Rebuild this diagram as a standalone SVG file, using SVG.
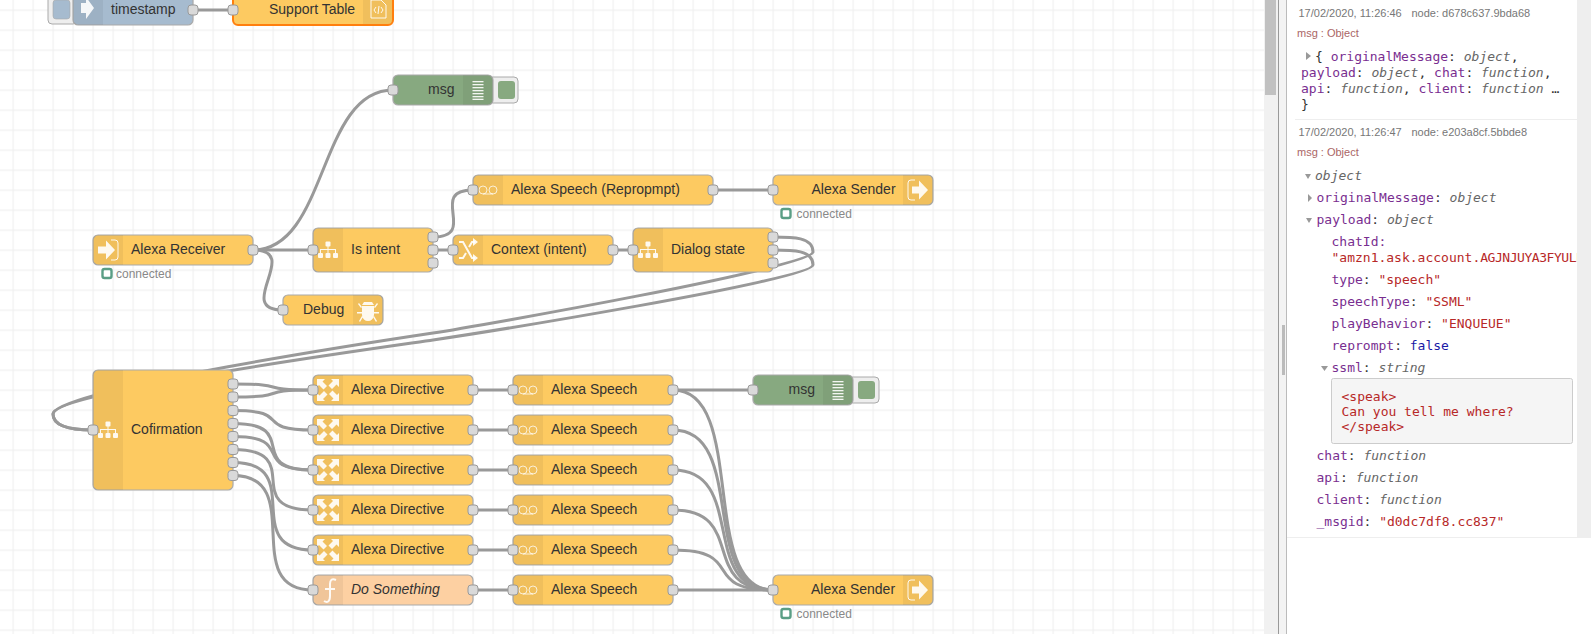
<svg xmlns="http://www.w3.org/2000/svg" width="1591" height="634" viewBox="0 0 1591 634">
<style>
.n{stroke:#aaa;stroke-width:1.2;fill:#fdca61}
.fn{fill:#fdd0a2}.inj{fill:#a6bbcf}.dbg{fill:#87a980}
.sec{fill:#000;fill-opacity:.05}
.btn{fill:#eee;stroke:#aaa;stroke-width:1}
.p{fill:#d9d9d9;stroke:#999;stroke-width:1}
.w{fill:none;stroke:#999;stroke-width:3}
.t{font:14px "Liberation Sans",Arial,sans-serif;fill:#333}
.it{font-style:italic}
.st{font:12px "Liberation Sans",Arial,sans-serif;fill:#888}
.sd{fill:#fff;stroke:#5a9e85;stroke-width:2.4}
.i{fill:#fff;fill-opacity:.9}
.il{fill:none;stroke:#fff;stroke-opacity:.9;stroke-width:1}
.tp{fill:none;stroke:#fff;stroke-opacity:.75;stroke-width:1}
.ts{font:11px "Liberation Sans",Arial,sans-serif;fill:#777}
.mh{font:11px "Liberation Sans",Arial,sans-serif;fill:#a66}
.m{font:13px "DejaVu Sans Mono",monospace;fill:#666;white-space:pre}
.k{fill:#792e90}.s{fill:#b72828}.b{fill:#1a1aa6}.y{font-style:italic;fill:#666}.d{fill:#333}
.tri{fill:#999}
</style>
<defs>
<pattern id="grid" width="20" height="20" patternUnits="userSpaceOnUse" x="12.500" y="9.500">
<path d="M0 .6H20M.6 0V20" fill="none" stroke="#f0f0f0" stroke-width="1.200"/>
</pattern>
<clipPath id="pc"><rect x="1295" y="0" width="282" height="634"/></clipPath>
<rect id="port" x="-5" y="-5" width="10" height="10" rx="3" class="p"/>
<g id="ic-tree" class="i"><rect x="-2.500" y="-8.500" width="5" height="5" rx="1"/><rect x="-10" y="3" width="5" height="5" rx="1"/><rect x="-2.500" y="3" width="5" height="5" rx="1"/><rect x="5" y="3" width="5" height="5" rx="1"/><path d="M-.5-4h1v3H8v4h-1V0H.5v3h-1V0H-7v3h-1v-4H-.5z"/></g>
<g id="ic-tape" class="tp"><circle cx="-5" cy="0" r="4"/><circle cx="5" cy="0" r="4"/><path d="M-5 4H5"/></g>
<g id="ic-map" class="i"><path d="M-11-11h8l-2.500 2.500 4.500 4.500-3.500 3.500-4.500-4.500L-11-3zM11-11v8l-2.500-2.500-4.500 4.500-3.500-3.500 4.500-4.500L3-11zM-11 11v-8l2.500 2.500 4.500-4.500 3.500 3.500-4.500 4.500L-3 11zM11 11h-8l2.500-2.500-4.500-4.500 3.500-3.500 4.500 4.500L11 3z"/></g>
<g id="ic-in"><path class="i" d="M-10-3.500h8v-6l9 9.500-9 9.500v-6h-8z"/><path class="il" d="M3-10h4q3 0 3 3V7q0 3-3 3H3"/></g>
<g id="ic-out"><path class="il" d="M-3-10h-4q-3 0-3 3V7q0 3 3 3h4"/><path class="i" d="M-6-3.500h7v-6l9 9.500-9 9.500v-6h-7z"/></g>
<g id="ic-list" class="i"><rect x="-5.500" y="-9" width="11" height="1.300"/><rect x="-5.500" y="-6" width="11" height="1.300"/><rect x="-5.500" y="-3" width="11" height="1.300"/><rect x="-5.500" y="0" width="11" height="1.300"/><rect x="-5.500" y="3" width="11" height="1.300"/><rect x="-5.500" y="6" width="11" height="1.300"/><rect x="-5.500" y="8.700" width="11" height="1.300"/></g>
</defs>
<rect width="1591" height="634" fill="#fff"/>
<rect x="0" y="0" width="1264" height="634" fill="url(#grid)"/>
<g id="connectors">
<path class="w" d="M193 10H233"/>
<path class="w" d="M253 250C328 250 318 90 393 90"/>
<path class="w" d="M253 250H313"/>
<path class="w" d="M253 250C303 250 233 310 283 310"/>
<path class="w" d="M433 237C479 237 427 190 473 190"/>
<path class="w" d="M433 250H453"/>
<path class="w" d="M713 190H773"/>
<path class="w" d="M613 250H633"/>
<path class="w" d="M773 237C793 237 813 237 813 252C813 267 473 327 433 333C393 339 53 390 53 414C53 426 70 430 93 430"/>
<path class="w" d="M773 250C793 250 813 250 813 265C813 280 473 334 433 340C393 346 53 392 53 414C53 426 70 430 93 430"/>
<path class="w" d="M233 384C293 384 253 390 313 390"/>
<path class="w" d="M233 397C293 397 253 390 313 390"/>
<path class="w" d="M233 410.500C295 410.500 251 430 313 430"/>
<path class="w" d="M233 423.500C303 423.500 243 470 313 470"/>
<path class="w" d="M233 436.500C298 436.500 248 470 313 470"/>
<path class="w" d="M233 449.500C308 449.500 238 510 313 510"/>
<path class="w" d="M233 462.500C308 462.500 238 550 313 550"/>
<path class="w" d="M233 475.500C308 475.500 238 590 313 590"/>
<path class="w" d="M473 390H513M473 430H513M473 470H513M473 510H513M473 550H513M473 590H513"/>
<path class="w" d="M673 390H753"/>
<path class="w" d="M673 390C748 390 698 590 773 590"/>
<path class="w" d="M673 430C748 430 698 590 773 590"/>
<path class="w" d="M673 470C748 470 698 590 773 590"/>
<path class="w" d="M673 510C748 510 698 590 773 590"/>
<path class="w" d="M673 550C748 550 698 590 773 590"/>
<path class="w" d="M673 590H773"/>
</g>
<g id="node-timestamp">
<rect class="btn" x="48" y="-5" width="29" height="29" rx="4"/><rect class="inj" x="53" y="0" width="17" height="19" rx="3" stroke="#aaa" stroke-width=".6"/>
<rect class="n inj" x="73" y="-5" width="120" height="30" rx="5"/>
<path class="sec" d="M73 20a5 5 0 0 0 5 5H103V-5H73z"/>
<path class="i" d="M81 3h5V-3l8 11-8 11V13h-5z"/>
<text class="t" x="111" y="14">timestamp</text>
<use href="#port" x="193" y="10"/>
</g>
<g id="node-support-table">
<rect class="n" x="233" y="-5" width="160" height="30" rx="5" style="stroke:#ff7f0e;stroke-width:2"/>
<path class="sec" d="M363 -4H392V20a4 4 0 0 1-4 4H363z"/>
<path class="il" d="M371 0H381L386 5V18H371zM376 7l-2 3 2 3M381 7l2 3-2 3M379 6l-1 8"/>
<text class="t" x="269" y="14">Support Table</text>
<use href="#port" x="233" y="10"/>
</g>
<g id="node-msg-1">
<rect class="btn" x="489" y="77" width="29" height="26" rx="4"/><rect class="dbg" x="498" y="81" width="17" height="18" rx="3"/>
<rect class="n dbg" x="393" y="75" width="100" height="30" rx="5"/>
<path class="sec" d="M463 75H488a5 5 0 0 1 5 5V100a5 5 0 0 1-5 5H463z"/>
<use href="#ic-list" x="478" y="90"/>
<text class="t" x="428" y="94">msg</text>
<use href="#port" x="393" y="90"/>
</g>
<g id="node-alexa-receiver">
<rect class="n" x="93" y="235" width="160" height="30" rx="5"/>
<path class="sec" d="M98 235H123V265H98a5 5 0 0 1-5-5V240a5 5 0 0 1 5-5z"/>
<use href="#ic-in" x="108" y="250"/>
<text class="t" x="131" y="254">Alexa Receiver</text>
<use href="#port" x="253" y="250"/>
<rect class="sd" x="102.500" y="269" width="9" height="9" rx="2"/>
<text class="st" x="116" y="278">connected</text>
</g>
<g id="node-is-intent">
<rect class="n" x="313" y="228" width="120" height="44" rx="5"/>
<path class="sec" d="M318 228H343V272H318a5 5 0 0 1-5-5V233a5 5 0 0 1 5-5z"/>
<use href="#ic-tree" x="328" y="250"/>
<text class="t" x="351" y="254">Is intent</text>
<use href="#port" x="313" y="250"/><use href="#port" x="433" y="237"/><use href="#port" x="433" y="250"/><use href="#port" x="433" y="263"/>
</g>
<g id="node-debug">
<rect class="n" x="283" y="295" width="100" height="30" rx="5"/>
<path class="sec" d="M353 295H378a5 5 0 0 1 5 5V320a5 5 0 0 1-5 5H353z"/>
<path class="i" d="M364 302h8l2 3h-12zM362 306h12v9q-1 6-6 6t-6-6zM359 303l3 4-1 1-3-4zM377 303l-3 4 1 1 3-4zM357 312h5v1.500h-5zM374 312h5v1.500h-5zM359 321l3-5 1 1-3 5zM377 321l-3-5-1 1 3 5z"/>
<text class="t" x="303" y="314">Debug</text>
<use href="#port" x="283" y="310"/>
</g>
<g id="node-speech-reprompt">
<rect class="n" x="473" y="175" width="240" height="30" rx="5"/>
<path class="sec" d="M478 175H503V205H478a5 5 0 0 1-5-5V180a5 5 0 0 1 5-5z"/>
<use href="#ic-tape" x="488" y="190"/>
<text class="t" x="511" y="193.500">Alexa Speech (Repropmpt)</text>
<use href="#port" x="473" y="190"/><use href="#port" x="713" y="190"/>
</g>
<g id="node-sender-1">
<rect class="n" x="773" y="175" width="160" height="30" rx="5"/>
<path class="sec" d="M903 175H928a5 5 0 0 1 5 5V200a5 5 0 0 1-5 5H903z"/>
<use href="#ic-out" x="918" y="190"/>
<text class="t" x="811.500" y="193.500">Alexa Sender</text>
<use href="#port" x="773" y="190"/>
<rect class="sd" x="781.500" y="209" width="9" height="9" rx="2"/>
<text class="st" x="796.500" y="218">connected</text>
</g>
<g id="node-context">
<rect class="n" x="453" y="235" width="160" height="30" rx="5"/>
<path class="sec" d="M458 235H483V265H458a5 5 0 0 1-5-5V240a5 5 0 0 1 5-5z"/>
<path class="il" style="stroke-width:2" d="M459 242h4l9 16h3M459 258h4l3-5M469 247l3-5h3"/>
<path class="i" d="M473 238l5 4-5 4zM473 254l5 4-5 4z"/>
<text class="t" x="491" y="254">Context (intent)</text>
<use href="#port" x="453" y="250"/><use href="#port" x="613" y="250"/>
</g>
<g id="node-dialog-state">
<rect class="n" x="633" y="228" width="140" height="44" rx="5"/>
<path class="sec" d="M638 228H663V272H638a5 5 0 0 1-5-5V233a5 5 0 0 1 5-5z"/>
<use href="#ic-tree" x="648" y="250"/>
<text class="t" x="671" y="254">Dialog state</text>
<use href="#port" x="633" y="250"/><use href="#port" x="773" y="237"/><use href="#port" x="773" y="250"/><use href="#port" x="773" y="263"/>
</g>
<g id="node-msg-2">
<rect class="btn" x="849" y="377" width="30" height="26" rx="4"/><rect class="dbg" x="858" y="381" width="17" height="18" rx="3"/>
<rect class="n dbg" x="753" y="375" width="100" height="30" rx="5"/>
<path class="sec" d="M823 375H848a5 5 0 0 1 5 5V400a5 5 0 0 1-5 5H823z"/>
<use href="#ic-list" x="838" y="390"/>
<text class="t" x="788.500" y="394">msg</text>
<use href="#port" x="753" y="390"/>
</g>
<g id="node-cofirmation">
<rect class="n" x="93" y="370" width="140" height="120" rx="5"/>
<path class="sec" d="M98 370H123V490H98a5 5 0 0 1-5-5V375a5 5 0 0 1 5-5z"/>
<use href="#ic-tree" x="108" y="430"/>
<text class="t" x="131" y="433.500">Cofirmation</text>
<use href="#port" x="93" y="430"/>
<use href="#port" x="233" y="384"/><use href="#port" x="233" y="397"/><use href="#port" x="233" y="410.500"/><use href="#port" x="233" y="423.500"/><use href="#port" x="233" y="436.500"/><use href="#port" x="233" y="449.500"/><use href="#port" x="233" y="462.500"/><use href="#port" x="233" y="475.500"/>
</g>
<g id="node-directive-1"><rect class="n" x="313" y="375" width="160" height="30" rx="5"/><path class="sec" d="M318 375H343V405H318a5 5 0 0 1-5-5V380a5 5 0 0 1 5-5z"/><use href="#ic-map" x="328" y="390"/><text class="t" x="351" y="393.500">Alexa Directive</text><use href="#port" x="313" y="390"/><use href="#port" x="473" y="390"/></g>
<g id="node-directive-2"><rect class="n" x="313" y="415" width="160" height="30" rx="5"/><path class="sec" d="M318 415H343V445H318a5 5 0 0 1-5-5V420a5 5 0 0 1 5-5z"/><use href="#ic-map" x="328" y="430"/><text class="t" x="351" y="433.500">Alexa Directive</text><use href="#port" x="313" y="430"/><use href="#port" x="473" y="430"/></g>
<g id="node-directive-3"><rect class="n" x="313" y="455" width="160" height="30" rx="5"/><path class="sec" d="M318 455H343V485H318a5 5 0 0 1-5-5V460a5 5 0 0 1 5-5z"/><use href="#ic-map" x="328" y="470"/><text class="t" x="351" y="473.500">Alexa Directive</text><use href="#port" x="313" y="470"/><use href="#port" x="473" y="470"/></g>
<g id="node-directive-4"><rect class="n" x="313" y="495" width="160" height="30" rx="5"/><path class="sec" d="M318 495H343V525H318a5 5 0 0 1-5-5V500a5 5 0 0 1 5-5z"/><use href="#ic-map" x="328" y="510"/><text class="t" x="351" y="513.500">Alexa Directive</text><use href="#port" x="313" y="510"/><use href="#port" x="473" y="510"/></g>
<g id="node-directive-5"><rect class="n" x="313" y="535" width="160" height="30" rx="5"/><path class="sec" d="M318 535H343V565H318a5 5 0 0 1-5-5V540a5 5 0 0 1 5-5z"/><use href="#ic-map" x="328" y="550"/><text class="t" x="351" y="553.500">Alexa Directive</text><use href="#port" x="313" y="550"/><use href="#port" x="473" y="550"/></g>
<g id="node-do-something"><rect class="n fn" x="313" y="575" width="160" height="30" rx="5"/><path class="sec" d="M318 575H343V605H318a5 5 0 0 1-5-5V580a5 5 0 0 1 5-5z"/><path class="il" style="stroke-width:2" d="M336 580c-4-2-6 0-6 4V596c0 6-3 7-6 5M325 589H335"/><text class="t it" x="351" y="593.500">Do Something</text><use href="#port" x="313" y="590"/><use href="#port" x="473" y="590"/></g>
<g id="node-speech-1"><rect class="n" x="513" y="375" width="160" height="30" rx="5"/><path class="sec" d="M518 375H543V405H518a5 5 0 0 1-5-5V380a5 5 0 0 1 5-5z"/><use href="#ic-tape" x="528" y="390"/><text class="t" x="551" y="393.500">Alexa Speech</text><use href="#port" x="513" y="390"/><use href="#port" x="673" y="390"/></g>
<g id="node-speech-2"><rect class="n" x="513" y="415" width="160" height="30" rx="5"/><path class="sec" d="M518 415H543V445H518a5 5 0 0 1-5-5V420a5 5 0 0 1 5-5z"/><use href="#ic-tape" x="528" y="430"/><text class="t" x="551" y="433.500">Alexa Speech</text><use href="#port" x="513" y="430"/><use href="#port" x="673" y="430"/></g>
<g id="node-speech-3"><rect class="n" x="513" y="455" width="160" height="30" rx="5"/><path class="sec" d="M518 455H543V485H518a5 5 0 0 1-5-5V460a5 5 0 0 1 5-5z"/><use href="#ic-tape" x="528" y="470"/><text class="t" x="551" y="473.500">Alexa Speech</text><use href="#port" x="513" y="470"/><use href="#port" x="673" y="470"/></g>
<g id="node-speech-4"><rect class="n" x="513" y="495" width="160" height="30" rx="5"/><path class="sec" d="M518 495H543V525H518a5 5 0 0 1-5-5V500a5 5 0 0 1 5-5z"/><use href="#ic-tape" x="528" y="510"/><text class="t" x="551" y="513.500">Alexa Speech</text><use href="#port" x="513" y="510"/><use href="#port" x="673" y="510"/></g>
<g id="node-speech-5"><rect class="n" x="513" y="535" width="160" height="30" rx="5"/><path class="sec" d="M518 535H543V565H518a5 5 0 0 1-5-5V540a5 5 0 0 1 5-5z"/><use href="#ic-tape" x="528" y="550"/><text class="t" x="551" y="553.500">Alexa Speech</text><use href="#port" x="513" y="550"/><use href="#port" x="673" y="550"/></g>
<g id="node-speech-6"><rect class="n" x="513" y="575" width="160" height="30" rx="5"/><path class="sec" d="M518 575H543V605H518a5 5 0 0 1-5-5V580a5 5 0 0 1 5-5z"/><use href="#ic-tape" x="528" y="590"/><text class="t" x="551" y="593.500">Alexa Speech</text><use href="#port" x="513" y="590"/><use href="#port" x="673" y="590"/></g>
<g id="node-sender-2">
<rect class="n" x="773" y="575" width="160" height="30" rx="5"/>
<path class="sec" d="M903 575H928a5 5 0 0 1 5 5V600a5 5 0 0 1-5 5H903z"/>
<use href="#ic-out" x="918" y="590"/>
<text class="t" x="811" y="593.500">Alexa Sender</text>
<use href="#port" x="773" y="590"/>
<rect class="sd" x="781.500" y="609" width="9" height="9" rx="2"/>
<text class="st" x="796.500" y="618">connected</text>
</g>
<g id="sidebar">
<rect x="1264" y="0" width="14" height="634" fill="#f1f1f1"/>
<rect x="1265" y="0" width="11" height="95" fill="#c1c1c1"/>
<rect x="1278" y="0" width="1" height="634" fill="#999"/>
<rect x="1279" y="0" width="312" height="634" fill="#f3f3f3"/>
<rect x="1286" y="0" width="1" height="634" fill="#bbb"/>
<rect x="1287" y="0" width="304" height="634" fill="#fff"/>
<rect x="1282" y="325" width="3" height="50" fill="#bbb"/>
<rect x="1577" y="0" width="14" height="537" fill="#eee"/>
<rect x="1295" y="119" width="282" height="1" fill="#eee"/>
<rect x="1287" y="537" width="304" height="1" fill="#eee"/>
<text class="ts" x="1298.500" y="17">17/02/2020, 11:26:46</text><text class="ts" x="1411.500" y="17">node: d678c637.9bda68</text>
<text class="mh" x="1297" y="37">msg : Object</text>
<path class="tri" d="M1306 52l5 4-5 4z"/>
<text class="m" x="1315" y="61"><tspan class="d">{ </tspan><tspan class="k">originalMessage</tspan><tspan class="d">: </tspan><tspan class="y">object</tspan><tspan class="d">,</tspan></text>
<text class="m" x="1301" y="77"><tspan class="k">payload</tspan><tspan class="d">: </tspan><tspan class="y">object</tspan><tspan class="d">, </tspan><tspan class="k">chat</tspan><tspan class="d">: </tspan><tspan class="y">function</tspan><tspan class="d">,</tspan></text>
<text class="m" x="1301" y="93"><tspan class="k">api</tspan><tspan class="d">: </tspan><tspan class="y">function</tspan><tspan class="d">, </tspan><tspan class="k">client</tspan><tspan class="d">: </tspan><tspan class="y">function</tspan><tspan class="d"> …</tspan></text>
<text class="m" x="1301" y="109"><tspan class="d">}</tspan></text>
<text class="ts" x="1298.500" y="136">17/02/2020, 11:26:47</text><text class="ts" x="1411.500" y="136">node: e203a8cf.5bbde8</text>
<text class="mh" x="1297" y="156">msg : Object</text>
<path class="tri" d="M1305 174l6 0-3 5z"/>
<text class="m y" x="1315" y="180">object</text>
<path class="tri" d="M1308 194l4 4-4 4z"/>
<text class="m" x="1316.500" y="202"><tspan class="k">originalMessage</tspan><tspan class="d">: </tspan><tspan class="y">object</tspan></text>
<path class="tri" d="M1306 218l6 0-3 5z"/>
<text class="m" x="1316.500" y="224"><tspan class="k">payload</tspan><tspan class="d">: </tspan><tspan class="y">object</tspan></text>
<text class="m k" x="1331.500" y="246">chatId:</text>
<text class="m s" x="1331.500" y="262" clip-path="url(#pc)">"amzn1.ask.account.<tspan letter-spacing="-.45">AGJNJUYA3FYULE</tspan></text>
<text class="m" x="1331.500" y="284"><tspan class="k">type</tspan><tspan class="d">: </tspan><tspan class="s">"speech"</tspan></text>
<text class="m" x="1331.500" y="306"><tspan class="k">speechType</tspan><tspan class="d">: </tspan><tspan class="s">"SSML"</tspan></text>
<text class="m" x="1331.500" y="328"><tspan class="k">playBehavior</tspan><tspan class="d">: </tspan><tspan class="s">"ENQUEUE"</tspan></text>
<text class="m" x="1331.500" y="350"><tspan class="k">reprompt</tspan><tspan class="d">: </tspan><tspan class="b">false</tspan></text>
<path class="tri" d="M1321 366l7 0-3.500 5z"/>
<text class="m" x="1331.500" y="372"><tspan class="k">ssml</tspan><tspan class="d">: </tspan><tspan class="y">string</tspan></text>
<rect x="1331.500" y="378.500" width="241" height="65" rx="2" fill="#f5f5f5" stroke="#ccc"/>
<text class="m s" x="1341.500" y="400.500">&lt;speak&gt;</text>
<text class="m s" x="1341.500" y="416">Can you tell me where?</text>
<text class="m s" x="1341.500" y="431">&lt;/speak&gt;</text>
<text class="m" x="1316.500" y="460"><tspan class="k">chat</tspan><tspan class="d">: </tspan><tspan class="y">function</tspan></text>
<text class="m" x="1316.500" y="482"><tspan class="k">api</tspan><tspan class="d">: </tspan><tspan class="y">function</tspan></text>
<text class="m" x="1316.500" y="504"><tspan class="k">client</tspan><tspan class="d">: </tspan><tspan class="y">function</tspan></text>
<text class="m" x="1316.500" y="525.500"><tspan class="k">_msgid</tspan><tspan class="d">: </tspan><tspan class="s">"d0dc7df8.cc837"</tspan></text>
</g>
</svg>
